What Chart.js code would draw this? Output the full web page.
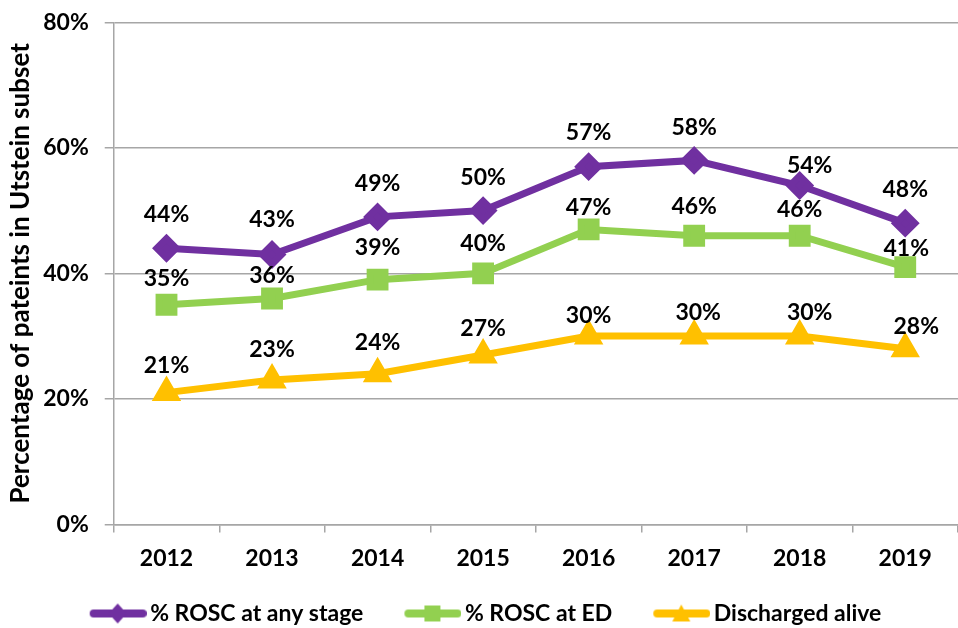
<!DOCTYPE html>
<html>
<head>
<meta charset="utf-8">
<script src="https://cdn.jsdelivr.net/npm/chart.js@4"></script>
<style>
  html, body { margin: 0; padding: 0; background: #fff; }
  #wrap { width: 958px; height: 628px; }
</style>
</head>
<body>
<div id="wrap"><canvas id="myChart" width="958" height="628"></canvas></div>
<script>
var years = ['2012', '2013', '2014', '2015', '2016', '2017', '2018', '2019'];
var roscAny = [44, 43, 49, 50, 57, 58, 54, 48];
var roscED = [35, 36, 39, 40, 47, 46, 46, 41];
var discharged = [21, 23, 24, 27, 30, 30, 30, 28];
var yTicks = [0, 20, 40, 60, 80];

var FONT = 'Lato, "Open Sans", sans-serif';

// line+marker picture for the legend; blank on the left gives the gap between items
function legendIcon(color, shape) {
  var c = document.createElement('canvas');
  c.width = 88; c.height = 22;
  var g = c.getContext('2d');
  g.strokeStyle = color; g.fillStyle = color;
  g.lineWidth = 8; g.lineCap = 'round';
  g.beginPath(); g.moveTo(35, 11); g.lineTo(84, 11); g.stroke();
  g.beginPath();
  var cx = 59;
  if (shape === 'diamond') {
    g.moveTo(cx, 1); g.lineTo(cx + 9, 11); g.lineTo(cx, 21); g.lineTo(cx - 9, 11);
  } else if (shape === 'square') {
    g.rect(cx - 8, 3, 16, 16);
  } else {
    g.moveTo(cx, 2); g.lineTo(cx + 9, 19); g.lineTo(cx - 9, 19);
  }
  g.closePath(); g.fill();
  return c;
}

var valueLabels = {
  id: 'valueLabels',
  afterLayout: function(chart) {
    // icons carry blank space on the left, pull the legend back to centre
    chart.legend.left -= 10;
    chart.legend.right -= 10;
  },
  afterDatasetsDraw: function(chart) {
    var ctx = chart.ctx;
    ctx.save();
    ctx.font = 'bold 23px ' + FONT;
    ctx.fillStyle = '#000';
    ctx.textAlign = 'center';
    ctx.textBaseline = 'middle';
    chart.data.datasets.forEach(function(ds, i) {
      var meta = chart.getDatasetMeta(i);
      meta.data.forEach(function(pt, j) {
        ctx.fillText(ds.data[j] + '%', pt.x + ds.labelDx[j], pt.y - ds.labelDy[j]);
      });
    });
    ctx.restore();
  }
};

var ctx = document.getElementById('myChart').getContext('2d');
var myChart = new Chart(ctx, {
  type: 'line',
  data: {
    labels: years,
    datasets: [{
        label: '% ROSC at any stage',
        data: roscAny,
        borderColor: '#7030A0',
        backgroundColor: '#7030A0',
        borderWidth: 7,
        pointStyle: 'rectRot',
        pointRadius: 9.5,
        labelDy: [34, 35, 33, 33, 34, 33, 20, 34],
        labelDx: [0, 0, 0, 0, 0, 0, 10, 0],
        legendIcon: legendIcon('#7030A0', 'diamond')
      }, {
        label: '% ROSC at ED',
        data: roscED,
        borderColor: '#92D050',
        backgroundColor: '#92D050',
        borderWidth: 7,
        pointStyle: 'rect',
        pointRadius: 10.5,
        labelDy: [26, 23, 32, 30, 22, 29, 26, 19],
        labelDx: [0, 0, 0, 0, 0, 0, 0, 1],
        legendIcon: legendIcon('#92D050', 'square')
      }, {
        label: 'Discharged alive',
        data: discharged,
        borderColor: '#FFC000',
        backgroundColor: '#FFC000',
        borderWidth: 7,
        pointStyle: 'triangle',
        pointRadius: 10,
        labelDy: [27, 30, 31, 26, 21, 24, 24, 22],
        labelDx: [0, 0, 0, 0, 0, 4, 10, 11],
        legendIcon: legendIcon('#FFC000', 'triangle')
      }
    ]
  },
  options: {
    responsive: false,
    animation: false,
    layout: { autoPadding: false, padding: { left: 4, right: -6, top: 0, bottom: -7 } },
    plugins: {
      tooltip: { enabled: false },
      legend: {
        display: true,
        position: 'bottom',
        labels: {
          color: '#000',
          font: { family: FONT, size: 23, weight: 'bold' },
          usePointStyle: true,
          pointStyleWidth: 72,
          padding: 18,
          generateLabels: function(chart) {
            return chart.data.datasets.map(function(ds, i) {
              return {
                text: ds.label,
                pointStyle: ds.legendIcon,
                fillStyle: ds.borderColor,
                strokeStyle: ds.borderColor,
                lineWidth: 0,
                datasetIndex: i,
                fontColor: '#000'
              };
            });
          }
        }
      }
    },
    scales: {
      y: {
        min: 0,
        max: 80,
        afterBuildTicks: function(axis) {
          axis.ticks = yTicks.map(function(v) { return { value: v }; });
        },
        ticks: {
          color: '#000',
          font: { family: FONT, size: 23, weight: 'bold', lineHeight: 0.55 },
          padding: 16,
          callback: function(v) { return v + '%'; }
        },
        grid: { color: '#A6A6A6', lineWidth: 1.5, tickLength: 9 },
        border: { color: '#A6A6A6', width: 1.5 },
        title: {
          display: true,
          text: 'Percentage of pateints in Utstein subset',
          color: '#000',
          font: { family: FONT, size: 26, weight: 'bold' },
          padding: { top: 1, bottom: -9 }
        }
      },
      x: {
        offset: true,
        ticks: {
          color: '#000',
          font: { family: FONT, size: 23, weight: 'bold' },
          padding: 12
        },
        grid: { offset: true, drawOnChartArea: false, color: '#A6A6A6', lineWidth: 1.5, tickLength: 8 },
        border: { color: '#A6A6A6', width: 1.5 }
      }
    }
  },
  plugins: [valueLabels]
});
</script>
</body>
</html>
